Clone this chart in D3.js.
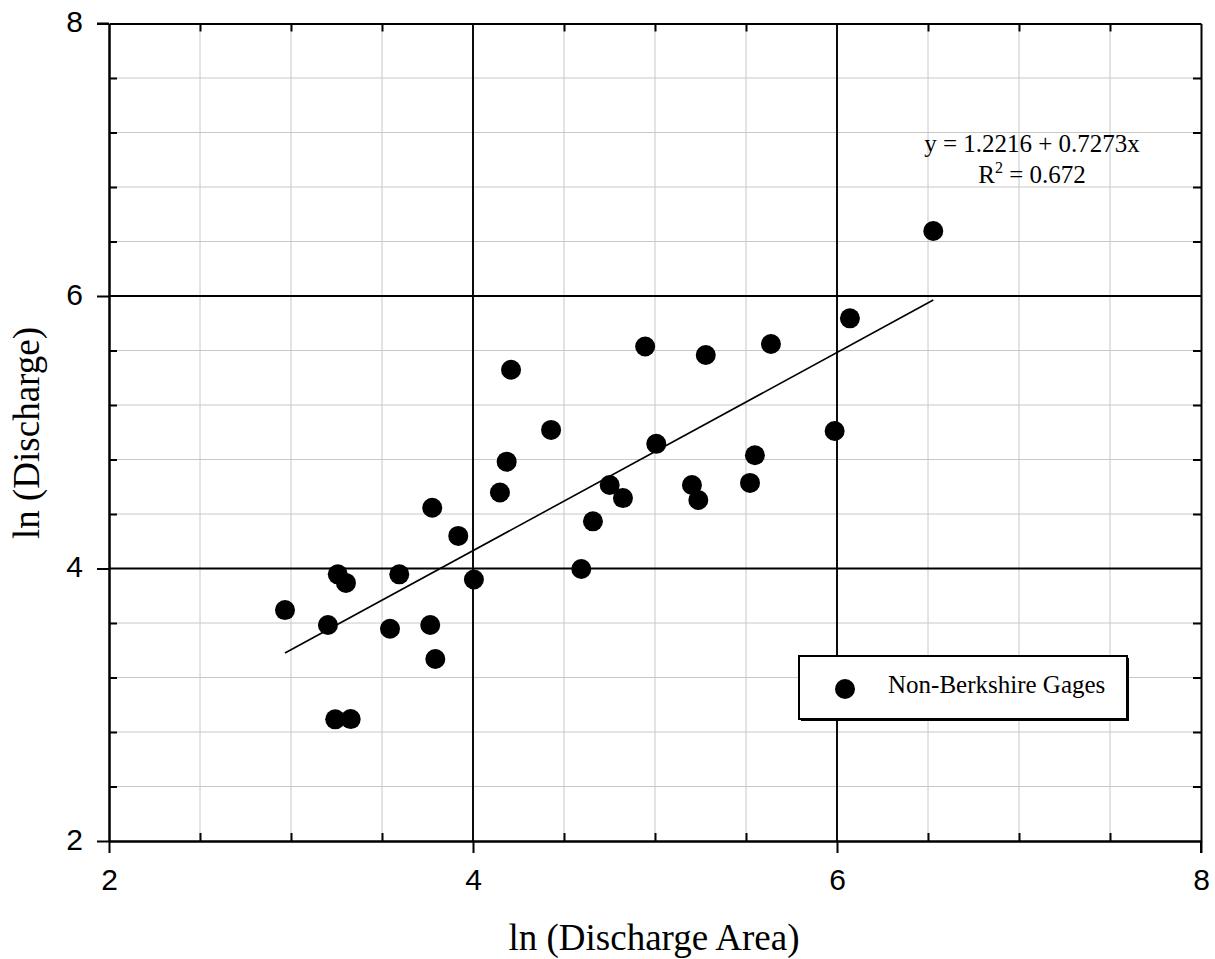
<!DOCTYPE html>
<html>
  <head>
    <meta charset="utf-8">
    <style>
    body {
      margin: 0;
      background: #fff;
    }
    .grid-minor line { stroke: #c8c8c8; stroke-width: 1; }
    .grid-major line { stroke: #000; stroke-width: 1.9; }
    .axis path { stroke: #000; stroke-width: 2; }
    .axis line { stroke: #000; stroke-width: 2; }
    .axis text { font-family: "Liberation Sans", Arial, sans-serif; font-size: 30px; fill: #000; }
    .title { font-family: "Liberation Serif", "Times New Roman", serif; font-size: 37px; fill: #000; }
    .note { font-family: "Liberation Serif", "Times New Roman", serif; font-size: 25px; fill: #000; }
    </style>
  </head>
  <body>
    <script src="https://d3js.org/d3.v7.min.js"></script>
    <script>
    var width = 1215,
      height = 959;

    // ln(area) and ln(discharge) of the gages
    var lnArea = [2.967, 3.203, 3.257, 3.302, 3.243, 3.328, 3.544, 3.595, 3.776, 3.765, 3.793,
      3.919, 4.005, 4.148, 4.185, 4.209, 4.429, 4.595, 4.659, 4.751, 4.824, 4.946, 5.007,
      5.203, 5.238, 5.279, 5.522, 5.549, 5.637, 5.987, 6.071, 6.529];
    var lnDischarge = [3.695, 3.585, 3.957, 3.894, 2.893, 2.895, 3.558, 3.957, 4.446, 3.585, 3.336,
      4.239, 3.919, 4.558, 4.784, 5.459, 5.017, 3.996, 4.346, 4.613, 4.517, 5.629, 4.915,
      4.613, 4.503, 5.567, 4.628, 4.831, 5.648, 5.009, 5.836, 6.477];

    var majorTicks = [2, 4, 6, 8];
    var xMinorTicks = [2.5, 3, 3.5, 4.5, 5, 5.5, 6.5, 7, 7.5];
    var yMinorTicks = [2.4, 2.8, 3.2, 3.6, 4.4, 4.8, 5.2, 5.6, 6.4, 6.8, 7.2, 7.6];
    var gridMajor = [4, 6];

    var intercept = 1.2216, slope = 0.7273, r2 = "0.672";
    var legendLabel = "Non-Berkshire Gages";

    var data = lnArea.map(function(d, i){ return {x: d, y: lnDischarge[i]}; });

    var x = d3.scaleLinear().domain([2, 8]).range([109, 1201]);
    var y = d3.scaleLinear().domain([2, 8]).range([841, 23.5]);

    var svg = d3.select("body").append("svg")
        .attr("width", width)
        .attr("height", height);

    // minor grid
    var gm = svg.append("g").attr("class", "grid-minor");
    gm.selectAll(".vx").data(xMinorTicks).enter().append("line")
        .attr("x1", x).attr("x2", x).attr("y1", y(2)).attr("y2", y(8));
    gm.selectAll(".hy").data(yMinorTicks).enter().append("line")
        .attr("y1", y).attr("y2", y).attr("x1", x(2)).attr("x2", x(8));

    // major grid
    var gM = svg.append("g").attr("class", "grid-major");
    gM.selectAll(".vx").data(gridMajor).enter().append("line")
        .attr("x1", x).attr("x2", x).attr("y1", y(2)).attr("y2", y(8));
    gM.selectAll(".hy").data(gridMajor).enter().append("line")
        .attr("y1", y).attr("y2", y).attr("x1", x(2)).attr("x2", x(8));

    // axes: major ticks outward with labels
    svg.append("g").attr("class", "axis")
        .attr("transform", "translate(0," + y(2) + ")")
        .call(d3.axisBottom(x).tickValues(majorTicks).tickSize(12).tickSizeOuter(0).tickPadding(16).tickFormat(d3.format("d")));
    svg.append("g").attr("class", "axis")
        .attr("transform", "translate(" + x(2) + ",0)")
        .call(d3.axisLeft(y).tickValues(majorTicks).tickSize(12).tickSizeOuter(0).tickPadding(14).tickFormat(d3.format("d")))
        .selectAll("text").attr("dy", "0.27em");

    // minor ticks pointing inward on all four sides
    svg.append("g").attr("class", "axis")
        .attr("transform", "translate(0," + y(2) + ")")
        .call(d3.axisBottom(x).tickValues(xMinorTicks).tickSize(-8).tickSizeOuter(0).tickFormat(""));
    svg.append("g").attr("class", "axis")
        .attr("transform", "translate(0," + y(8) + ")")
        .call(d3.axisTop(x).tickValues(xMinorTicks).tickSize(-8).tickSizeOuter(0).tickFormat(""));
    svg.append("g").attr("class", "axis")
        .attr("transform", "translate(" + x(2) + ",0)")
        .call(d3.axisLeft(y).tickValues(yMinorTicks).tickSize(-8).tickSizeOuter(0).tickFormat(""));
    svg.append("g").attr("class", "axis")
        .attr("transform", "translate(" + x(8) + ",0)")
        .call(d3.axisRight(y).tickValues(yMinorTicks).tickSize(-8).tickSizeOuter(0).tickFormat(""));

    // y=8 tick on the left and x=8 tick at the bottom reach out like the others
    svg.append("line").attr("x1", x(2) - 12).attr("x2", x(2)).attr("y1", y(8)).attr("y2", y(8))
        .attr("stroke", "#000").attr("stroke-width", 2);
    svg.append("line").attr("x1", x(8)).attr("x2", x(8)).attr("y1", y(2)).attr("y2", y(2) + 12)
        .attr("stroke", "#000").attr("stroke-width", 2);

    // axis titles
    svg.append("text").attr("class", "title")
        .attr("x", 654).attr("y", 950)
        .attr("text-anchor", "middle")
        .text("ln (Discharge Area)");
    svg.append("text").attr("class", "title")
        .attr("transform", "translate(38.5,433) rotate(-90)")
        .attr("text-anchor", "middle")
        .text("ln (Discharge)");

    // regression line over the range of the data
    var xr = d3.extent(lnArea);
    svg.append("line")
        .attr("x1", x(xr[0])).attr("y1", y(intercept + slope * xr[0]))
        .attr("x2", x(xr[1])).attr("y2", y(intercept + slope * xr[1]))
        .attr("stroke", "#000").attr("stroke-width", 1.6);

    // points
    svg.selectAll(".pt").data(data).enter().append("circle")
        .attr("class", "pt")
        .attr("cx", function(d){ return x(d.x); })
        .attr("cy", function(d){ return y(d.y); })
        .attr("r", 10)
        .attr("fill", "#000");

    // equation
    svg.append("text").attr("class", "note")
        .attr("x", 1032).attr("y", 152)
        .attr("text-anchor", "middle")
        .text("y = " + intercept + " + " + slope + "x");
    var r2t = svg.append("text").attr("class", "note")
        .attr("x", 1032).attr("y", 183)
        .attr("text-anchor", "middle");
    r2t.append("tspan").text("R");
    r2t.append("tspan").attr("dy", -10).attr("font-size", 16).text("2");
    r2t.append("tspan").attr("dy", 10).text(" = " + r2);

    // legend
    var lg = svg.append("g");
    lg.append("rect")
        .attr("x", 801).attr("y", 658).attr("width", 328).attr("height", 63)
        .attr("fill", "#000");
    lg.append("rect")
        .attr("x", 799).attr("y", 656).attr("width", 328).attr("height", 63)
        .attr("fill", "#fff").attr("stroke", "#000").attr("stroke-width", 2);
    lg.append("circle").attr("cx", 845).attr("cy", 689).attr("r", 10).attr("fill", "#000");
    lg.append("text").attr("class", "note")
        .attr("x", 888).attr("y", 693)
        .text(legendLabel);
    </script>
  </body>
</html>
